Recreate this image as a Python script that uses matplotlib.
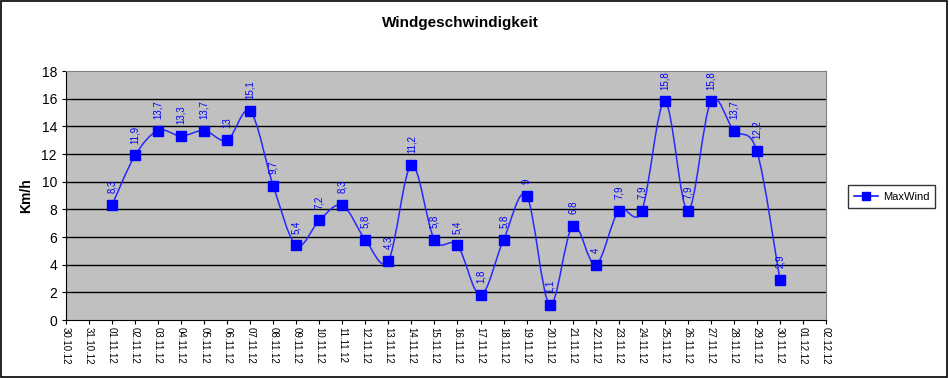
import numpy as np
import matplotlib
matplotlib.use("Agg")
import matplotlib.pyplot as plt
from matplotlib.path import Path
from matplotlib.patches import PathPatch, Rectangle
from matplotlib.lines import Line2D

plt.rcParams['font.family'] = ['Liberation Sans', 'DejaVu Sans']

tick_labels = ["30.10.12", "31.10.12"] + [f"{d:02d}.11.12" for d in range(1, 31)] + ["01.12.12", "02.12.12"]
dates = ["%02d.11.12" % d for d in range(1, 31)]
values = [8.3, 11.9, 13.7, 13.3, 13.7, 13, 15.1, 9.7, 5.4, 7.2, 8.3, 5.8, 4.3, 11.2, 5.8,
          5.4, 1.8, 5.8, 9, 1.1, 6.8, 4, 7.9, 7.9, 15.8, 7.9, 15.8, 13.7, 12.2, 2.9]
label_texts = ["8,3", "11,9", "13,7", "13,3", "13,7", "13", "15,1", "9,7", "5,4", "7,2", "8,3", "5,8",
               "4,3", "11,2", "5,8", "5,4", "1,8", "5,8", "9", "1,1", "6,8", "4", "7,9", "7,9", "15,8",
               "7,9", "15,8", "13,7", "12,2", "2,9"]

fig = plt.figure(figsize=(9.49, 3.78), dpi=100)
fig.patch.set_facecolor('white')
fig.add_artist(Rectangle((0.001, 0.002), 0.997, 0.995, transform=fig.transFigure,
                         fill=False, edgecolor='black', linewidth=1.2))

ax = fig.add_axes([0.0695, 0.1534, 0.8009, 0.6586])
ax.set_facecolor('#C0C0C0')
x_all = np.arange(len(tick_labels))
xs = np.array([tick_labels.index(d) for d in dates], dtype=float)
ys = np.array(values, dtype=float)

ax.set_xlim(0, len(tick_labels) - 1)
ax.set_ylim(0, 18)
ax.set_yticks(np.arange(0, 19, 2))
ax.set_xticks(x_all)
ax.set_xticklabels(tick_labels, rotation=270, fontsize=7)
ax.tick_params(axis='x', length=3, pad=2)
ax.tick_params(axis='y', length=3, labelsize=10)
for yv in np.arange(2, 18, 2):
    ax.axhline(yv, color='black', linewidth=1, zorder=1)

for side in ['top', 'right']:
    ax.spines[side].set_color('#808080')
for side in ['left', 'bottom']:
    ax.spines[side].set_color('black')

# Excel-like smoothed line (Catmull-Rom Bezier)
verts = [(xs[0], ys[0])]
codes = [Path.MOVETO]
n = len(xs)
for i in range(n - 1):
    p0 = np.array([xs[max(i - 1, 0)], ys[max(i - 1, 0)]])
    p1 = np.array([xs[i], ys[i]])
    p2 = np.array([xs[i + 1], ys[i + 1]])
    p3 = np.array([xs[min(i + 2, n - 1)], ys[min(i + 2, n - 1)]])
    c1 = p1 + (p2 - p0) / 6.0
    c2 = p2 - (p3 - p1) / 6.0
    verts += [tuple(c1), tuple(c2), tuple(p2)]
    codes += [Path.CURVE4] * 3
ax.add_patch(PathPatch(Path(verts, codes), facecolor='none', edgecolor='#2828FF', linewidth=1.1, zorder=3))
ax.plot(xs, ys, linestyle='none', marker='s', markersize=7, color='#0000FF',
        markeredgecolor='#0000FF', zorder=4)

for x, y, t in zip(xs, ys, label_texts):
    ax.annotate(t, (x, y), xytext=(0, 8.5), textcoords='offset points', rotation=90,
                ha='center', va='bottom', fontsize=7, color='#0000FF', zorder=5)

ax.set_ylabel('Km/h', fontsize=10, fontweight='bold', labelpad=6)
fig.text(0.485, 0.94, 'Windgeschwindigkeit', ha='center', va='center', fontsize=11, fontweight='bold')

handle = Line2D([], [], color='#0000FF', marker='s', markersize=6, linewidth=1.1)
leg = fig.legend([handle], ['MaxWind'], loc='center', bbox_to_anchor=(0.9395, 0.48),
                 fontsize=8, frameon=True, fancybox=False, edgecolor='black',
                 handlelength=2.2, borderpad=0.55, handletextpad=0.4)
leg.get_frame().set_linewidth(1)

fig.savefig('out.png', dpi=100)
